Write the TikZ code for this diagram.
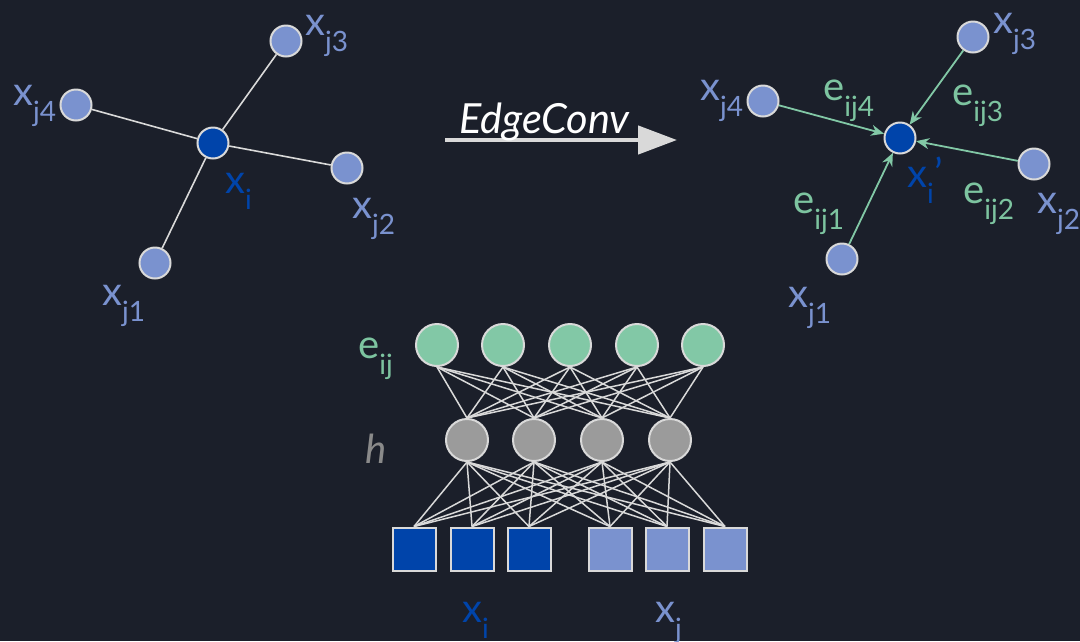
\documentclass[tikz,border=0pt]{standalone}
\usepackage{fontspec}
\setmainfont{Lato}
\usetikzlibrary{arrows.meta}
\definecolor{bg}{HTML}{1B1F2A}
\definecolor{lblue}{HTML}{7A92CF}
\definecolor{dblue}{HTML}{0044AA}
\definecolor{gnode}{HTML}{82C8A6}
\definecolor{gtext}{HTML}{7DC4A0}
\definecolor{hnode}{HTML}{9B9B9B}
\definecolor{htext}{HTML}{8A8A8A}
\definecolor{outl}{HTML}{D9D9D9}
\newcommand{\sbs}[1]{\raisebox{-16pt}{\fontsize{28}{28}\selectfont #1}}
\begin{document}
\begin{tikzpicture}[x=1pt,y=-1pt,
  gnd/.style={circle,draw=outl,line width=2pt,minimum size=31pt,inner sep=0},
  nnd/.style={circle,draw=outl,line width=2pt,minimum size=42pt,inner sep=0},
  sq/.style={rectangle,draw=outl,line width=2pt,minimum size=43pt,inner sep=0},
  lbl/.style={inner sep=0,anchor=base west,font=\fontsize{40}{40}\selectfont},
  edge/.style={draw=outl,line width=1.6pt},
  nedge/.style={draw=outl,line width=1.5pt},
  garr/.style={draw=gnode,line width=1.8pt,-{Stealth[length=13pt,width=11pt]}}]
\fill[bg] (0,0) rectangle (1080,641);
\useasboundingbox (0,0) rectangle (1080,641);
% left graph
\node[gnd,fill=dblue] (li) at (213,143) {};
\node[gnd,fill=lblue] (l3) at (286,41) {};
\node[gnd,fill=lblue] (l4) at (76,105) {};
\node[gnd,fill=lblue] (l2) at (347,168) {};
\node[gnd,fill=lblue] (l1) at (155,263) {};
\draw[edge] (li) -- (l3);
\draw[edge] (li) -- (l4);
\draw[edge] (li) -- (l2);
\draw[edge] (li) -- (l1);
\node[lbl,text=lblue] (tl3) at (305,35) {x\sbs{j3}};
\node[lbl,text=lblue] (tl4) at (13,105) {x\sbs{j4}};
\node[lbl,text=dblue] (tli) at (225,193) {x\sbs{i}};
\node[lbl,text=lblue] (tl2) at (352,218) {x\sbs{j2}};
\node[lbl,text=lblue] (tl1) at (102,305) {x\sbs{j1}};
% EdgeConv arrow
\coordinate (as) at (445,140);
\coordinate (ae) at (677,140);
\draw[draw=outl,line width=4.5pt,-{Triangle[length=39pt,width=28pt]}] (as) -- (ae);
\node[lbl,text=white,font=\fontsize{41.5}{41.5}\selectfont\itshape] (ec) at (459,133) {EdgeConv};
% right graph
\node[gnd,fill=dblue] (ri) at (900,138) {};
\node[gnd,fill=lblue] (r3) at (973,37) {};
\node[gnd,fill=lblue] (r4) at (763,101) {};
\node[gnd,fill=lblue] (r2) at (1034,164) {};
\node[gnd,fill=lblue] (r1) at (842,259) {};
\draw[garr] (r3) -- (ri);
\draw[garr] (r4) -- (ri);
\draw[garr] (r2) -- (ri);
\draw[garr] (r1) -- (ri);
\node[lbl,text=lblue] (tr4) at (700,100) {x\sbs{j4}};
\node[lbl,text=gtext] (te4) at (823,100) {e\sbs{ij4}};
\node[lbl,text=gtext] (te3) at (952,105) {e\sbs{ij3}};
\node[lbl,text=lblue] (tr3) at (993,33) {x\sbs{j3}};
\node[lbl,text=dblue] (tri) at (907,187) {x\sbs{i}\kern1pt’};
\node[lbl,text=gtext] (te2) at (963,203) {e\sbs{ij2}};
\node[lbl,text=lblue] (tr2) at (1037,213) {x\sbs{j2}};
\node[lbl,text=gtext] (te1) at (793,213) {e\sbs{ij1}};
\node[lbl,text=lblue] (tr1) at (788,307) {x\sbs{j1}};
% network
\foreach \i/\x in {1/437,2/503,3/570,4/637,5/703}
  \node[nnd,fill=gnode] (e\i) at (\x,345) {};
\foreach \i/\x in {1/467,2/534,3/602,4/670}
  \node[nnd,fill=hnode] (h\i) at (\x,440) {};
\foreach \i/\x in {1/414,2/472,3/529}
  \node[sq,fill=dblue] (s\i) at (\x,549) {};
\foreach \i/\x in {4/610,5/667,6/725}
  \node[sq,fill=lblue] (s\i) at (\x,549) {};
\foreach \a in {1,...,5}
  \foreach \b in {1,...,4}
    \draw[nedge] (e\a.south) -- (h\b.north);
\foreach \a in {1,...,4}
  \foreach \b in {1,...,6}
    \draw[nedge] (h\a.south) -- (s\b.north);
\node[lbl,text=gtext] (teij) at (358,358) {e\sbs{ij}};
\node[lbl,text=htext,font=\fontsize{40}{40}\selectfont\itshape] (th) at (365,463) {h};
\node[lbl,text=dblue] (txi) at (462,622) {x\sbs{i}};
\node[lbl,text=lblue] (txj) at (655,622) {x\sbs{j}};
\end{tikzpicture}
\end{document}
